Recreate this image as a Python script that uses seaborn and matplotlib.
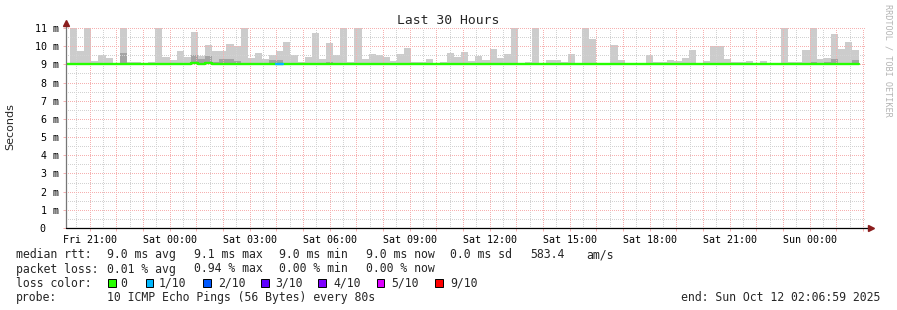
import numpy as np
import pandas as pd
import matplotlib
matplotlib.use("Agg")
import matplotlib.pyplot as plt
from matplotlib.patches import Rectangle
from matplotlib.transforms import ScaledTranslation
import seaborn as sns

# ---------------- data ----------------
title = "Last 30 Hours"
start_time = "2025-10-10 20:06:59"
end_time = "2025-10-12 02:06:59"
first_bin = "2025-10-10 20:16:00"
bin_minutes = 16

# smoke (max rtt per 16-min bin), ms
smoke_top = [
    11.2, 9.74, 11.2, 9.19, 9.52, 9.37, 9.09, 11.2, 9.13, 9.13,
    9.0, 9.13, 11.2, 9.42, 9.24, 9.74, 9.42, 10.76, 9.45, 10.07,
    9.74, 9.74, 10.12, 10.02, 11.2, 9.33, 9.64, 9.3, 9.52, 9.74,
    10.23, 9.52, 9.14, 9.41, 10.74, 9.29, 10.19, 9.53, 11.2, 9.14,
    11.2, 9.29, 9.58, 9.53, 9.38, 9.19, 9.58, 9.89, 9.14, 9.14,
    9.3, 9.1, 9.15, 9.62, 9.42, 9.7, 9.19, 9.48, 9.24, 9.86,
    9.36, 9.57, 11.2, 9.0, 9.13, 11.2, 9.04, 9.24, 9.24, 9.13,
    9.57, 9.0, 11.2, 10.4, 9.0, 9.0, 10.07, 9.24, 9.0, 9.0,
    9.0, 9.53, 9.14, 9.14, 9.24, 9.2, 9.35, 9.79, 9.05, 9.2,
    10.0, 10.0, 9.3, 9.14, 9.14, 9.2, 9.0, 9.2, 9.0, 9.0,
    11.2, 9.14, 9.14, 9.79, 11.2, 9.3, 9.35, 10.67, 9.86, 10.23,
    9.79,
]
# denser smoke (darker layer), ms; 9.0 = none
smoke_dense = [
    9.0, 9.0, 9.0, 9.0, 9.0, 9.0, 9.0, 9.62, 9.0, 9.0,
    9.0, 9.05, 9.0, 9.0, 9.0, 9.0, 9.0, 9.5, 9.3, 9.45,
    9.15, 9.3, 9.28, 9.2, 9.0, 9.0, 9.0, 9.0, 9.25, 9.25,
    9.0, 9.1, 9.0, 9.0, 9.0, 9.0, 9.12, 9.0, 9.0, 9.0,
    9.0, 9.0, 9.0, 9.0, 9.0, 9.0, 9.0, 9.0, 9.0, 9.0,
    9.0, 9.0, 9.0, 9.0, 9.0, 9.0, 9.0, 9.0, 9.0, 9.0,
    9.0, 9.0, 9.0, 9.0, 9.0, 9.0, 9.0, 9.0, 9.0, 9.0,
    9.0, 9.0, 9.0, 9.0, 9.0, 9.0, 9.0, 9.0, 9.0, 9.0,
    9.0, 9.0, 9.0, 9.0, 9.0, 9.0, 9.0, 9.0, 9.0, 9.0,
    9.0, 9.0, 9.0, 9.0, 9.0, 9.0, 9.0, 9.0, 9.0, 9.0,
    9.0, 9.0, 9.0, 9.0, 9.12, 9.0, 9.12, 9.3, 9.0, 9.1,
    9.25,
]
# median rtt per bin, ms
median_rtt = [9.0] * 111
for k, v in {17: 9.08, 19: 9.08, 22: 9.04, 109: 9.04}.items():
    median_rtt[k] = v
# packets lost per bin (out of 10)
loss_count = [0] * 111
loss_count[29] = 1

x_tick_labels = ["Fri 21:00", "Sat 00:00", "Sat 03:00", "Sat 06:00", "Sat 09:00",
                 "Sat 12:00", "Sat 15:00", "Sat 18:00", "Sat 21:00", "Sun 00:00"]
first_label_time = "2025-10-10 21:00:00"
y_ticks = list(range(0, 12))

loss_labels = ["0", "1/10", "2/10", "3/10", "4/10", "5/10", "9/10"]
loss_levels = [0, 1, 2, 3, 4, 5, 9]
loss_colors = ["#26ff00", "#00b8ff", "#0059ff", "#5e00ff", "#7e00ff", "#dd00ff", "#ff0000"]

stats_rtt = ["9.0 ms avg", "9.1 ms max", "9.0 ms min", "9.0 ms now", "0.0 ms sd", "583.4", "am/s"]
stats_loss = ["0.01 % avg", "0.94 % max", "0.00 % min", "0.00 % now"]
probe_text = "10 ICMP Echo Pings (56 Bytes) every 80s"

# ---------------- derived ----------------
t0 = pd.Timestamp(start_time)
span_h = (pd.Timestamp(end_time) - t0) / pd.Timedelta(hours=1)
w_h = bin_minutes / 60.0
bin_left = np.array([(pd.Timestamp(first_bin) + pd.Timedelta(minutes=bin_minutes * k) - t0)
                     / pd.Timedelta(hours=1) for k in range(len(smoke_top))])
label_pos = (pd.Timestamp(first_label_time) - t0) / pd.Timedelta(hours=1) + 3 * np.arange(len(x_tick_labels))
hour_pos = label_pos[0] + np.arange(-1, 31)
hour_pos = hour_pos[(hour_pos > 0) & (hour_pos < span_h)]
half_pos = hour_pos - 0.5
half_pos = half_pos[half_pos > 0]

# ---------------- style ----------------
sns.set_style("white")
plt.rcParams["font.family"] = ["DejaVu Sans Mono", "DejaVu Sans"]
MONO = "DejaVu Sans Mono"

W, H = 897, 310
fig = plt.figure(figsize=(W / 100, H / 100), dpi=100)
ax = fig.add_axes([66 / W, (H - 228) / H, 800 / W, 200 / H])
ax.set_xlim(0, span_h)
ax.set_ylim(0, 11)
for s in ax.spines.values():
    s.set_visible(False)

red_grid = "#f6b0b0"
gray_grid = "#d2d2d2"

# smoke
top = np.array(smoke_top)
dense = np.array(smoke_dense)
ax.bar(bin_left, top - 9.0, bottom=9.0, width=w_h, align="edge",
       color="#cccccc", linewidth=0, zorder=1)
ax.bar(bin_left, dense - 9.0, bottom=9.0, width=w_h, align="edge",
       color="#a4a4a4", linewidth=0, zorder=1.1)

# grid (drawn over the smoke, as rrdtool does)
dots = (0, (1, 1.5))
for y in np.arange(0.5, 11, 1.0):
    ax.axhline(y, color=gray_grid, lw=0.72, ls=dots, zorder=2, antialiased=False)
for x in half_pos:
    ax.axvline(x, color=gray_grid, lw=0.72, ls=dots, zorder=2, antialiased=False)
for y in range(1, 12):
    ax.axhline(y, color=red_grid, lw=0.72, ls=dots, zorder=2.1, antialiased=False)
for x in hour_pos:
    ax.axvline(x, color=red_grid, lw=0.72, ls=dots, zorder=2.1, antialiased=False)

# median line
xs = np.concatenate([[0.0], bin_left, [bin_left[-1] + w_h]])
ys = np.concatenate([[9.0], median_rtt, [median_rtt[-1]]])
med_df = pd.DataFrame({"t": xs, "rtt": ys})
sns.lineplot(data=med_df, x="t", y="rtt", drawstyle="steps-post", color=loss_colors[0],
             linewidth=1.7, estimator=None, sort=False, ax=ax, zorder=4)
for k, lc in enumerate(loss_count):
    if lc > 0:
        idx = max(i for i, l in enumerate(loss_levels) if l <= lc)
        seg = pd.DataFrame({"t": [bin_left[k], bin_left[k] + w_h],
                            "rtt": [median_rtt[k], median_rtt[k]]})
        sns.lineplot(data=seg, x="t", y="rtt", color=loss_colors[idx], linewidth=1.7,
                     estimator=None, sort=False, ax=ax, zorder=5)
ax.set_xlabel("")
ax.set_ylabel("")

# axes lines + arrows
ax.plot([0, 0], [0, 11.3], color="#777777", lw=0.9, clip_on=False, zorder=6)
ax.plot([0, span_h + 0.18], [0, 0], color="black", lw=0.9, clip_on=False, zorder=6)
ax.plot([0], [11.3], marker="^", ms=4.5, color="#8b1c1c", clip_on=False, zorder=7)
ax.plot([span_h + 0.2], [0], marker=">", ms=4.5, color="#8b1c1c", clip_on=False, zorder=7)

# ticks
ax.set_xticks(label_pos)
ax.set_xticklabels(x_tick_labels, fontsize=7.2, family=MONO)
ax.set_xticks(hour_pos, minor=True)
ax.set_yticks(y_ticks)
ax.set_yticklabels([("%d m" % v) if v else "0" for v in y_ticks], fontsize=7.2, family=MONO)
ax.tick_params(axis="both", which="both", length=2, width=0.7, colors=red_grid,
               labelcolor="black", left=True, bottom=True)
ax.tick_params(axis="x", pad=3)
ax.tick_params(axis="y", pad=3)
zero_lab = ax.get_yticklabels()[0]
zero_lab.set_transform(zero_lab.get_transform() + ScaledTranslation(-0.135, 0, fig.dpi_scale_trans))

# texts
def fx(px):
    return px / W

def fy(py):
    return 1 - py / H

fig.text(fx(448), fy(24), title, ha="center", va="baseline", fontsize=9.4, family=MONO)
fig.text(fx(10), fy(127), "Seconds", rotation=90, ha="center", va="center",
         fontsize=8, family="DejaVu Sans")
fig.text(fx(888), fy(4), "RRDTOOL / TOBI OETIKER", rotation=270, ha="center", va="top",
         fontsize=6.1, family=MONO, color="#b4b4b4")

FS = 8.3
row_base = [258, 272.5, 286.8, 301]
fig.text(fx(16), fy(row_base[0]), "median rtt:", fontsize=FS, family=MONO, va="baseline")
for xpx, s in zip([107.3, 194.3, 279.3, 365.7, 450, 530, 586.7], stats_rtt):
    fig.text(fx(xpx), fy(row_base[0]), s, fontsize=FS, family=MONO, va="baseline")
fig.text(fx(16), fy(row_base[1]), "packet loss:", fontsize=FS, family=MONO, va="baseline")
for xpx, s in zip([107.3, 193.7, 279.3, 365.7], stats_loss):
    fig.text(fx(xpx), fy(row_base[1]), s, fontsize=FS, family=MONO, va="baseline")
fig.text(fx(16), fy(row_base[2]), "loss color:", fontsize=FS, family=MONO, va="baseline")
sq_x = [108.3, 145.7, 203.3, 261, 318.3, 376.7, 435]
lab_x = [120.7, 158.3, 218, 275.7, 333.3, 391.7, 450]
for sx, lx, lab, col in zip(sq_x, lab_x, loss_labels, loss_colors):
    fig.patches.append(Rectangle((fx(sx), fy(row_base[2] + 0.5)), 7.5 / W, 8 / H,
                                 transform=fig.transFigure, facecolor=col,
                                 edgecolor="black", linewidth=0.7))
    fig.text(fx(lx), fy(row_base[2]), lab, fontsize=FS, family=MONO, va="baseline")
fig.text(fx(16), fy(row_base[3]), "probe:", fontsize=FS, family=MONO, va="baseline")
fig.text(fx(107.3), fy(row_base[3]), probe_text, fontsize=FS, family=MONO, va="baseline")
fig.text(fx(880), fy(row_base[3]), "end: Sun Oct 12 02:06:59 2025", fontsize=FS,
         family=MONO, va="baseline", ha="right")

fig.savefig("out.png", dpi=100, facecolor="white")
